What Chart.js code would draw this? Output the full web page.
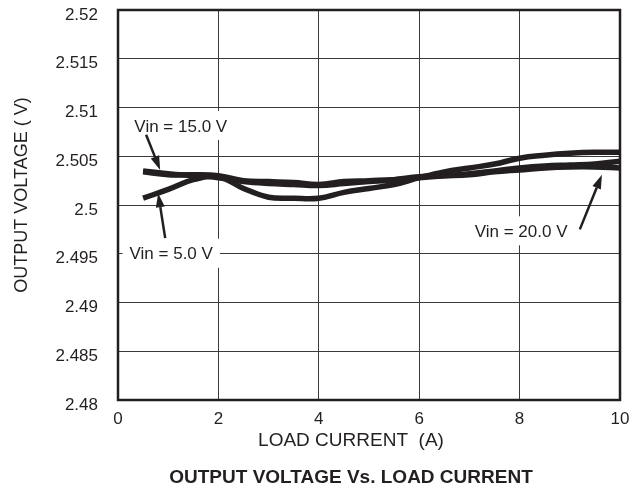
<!DOCTYPE html>
<html>
<head>
<meta charset="utf-8">
<script src="https://cdn.jsdelivr.net/npm/chart.js@4/dist/chart.umd.min.js"></script>
<style>
  html, body { margin: 0; padding: 0; background: #fff; }
  canvas { display: block; }
</style>
</head>
<body>
<canvas id="chart" width="637" height="498"></canvas>
<script>
// данные
const loadCurrent = [0.5, 1, 1.5, 2, 2.5, 3, 3.5, 4, 4.5, 5, 5.5, 6, 6.5, 7, 7.5, 8, 8.5, 9, 9.5, 10];
const vin5 = [2.5007, 2.5016, 2.5026, 2.5029, 2.5017, 2.5008, 2.5007, 2.5007, 2.5013, 2.5017,
              2.5021, 2.5028, 2.5034, 2.5038, 2.5042, 2.5048, 2.5051, 2.5053, 2.5054, 2.5054];
const vin15 = [2.5034, 2.5031, 2.5031, 2.5030, 2.5025, 2.5024, 2.5023, 2.5021, 2.5024, 2.5025,
               2.5026, 2.5028, 2.5030, 2.5032, 2.5035, 2.5038, 2.5040, 2.5041, 2.5042, 2.5045];
const vin20 = [2.5035, 2.5032, 2.5030, 2.5028, 2.5024, 2.5022, 2.5021, 2.5020, 2.5022, 2.5024,
               2.5026, 2.5029, 2.5030, 2.5031, 2.5034, 2.5036, 2.5038, 2.5039, 2.5039, 2.5038];
const xTicks = [0, 2, 4, 6, 8, 10];
const yTicks = [2.48, 2.485, 2.49, 2.495, 2.5, 2.505, 2.51, 2.515, 2.52];

const xTitle = 'LOAD CURRENT  (A)';
const yTitle = 'OUTPUT VOLTAGE ( V)';
const chartTitle = 'OUTPUT VOLTAGE Vs. LOAD CURRENT';

// подписи со стрелками (в координатах данных)
const notes = [
  { text: 'Vin = 15.0 V', x: 1.25, y: 2.5080, from: [0.56, 2.5072], to: [0.84, 2.5036] },
  { text: 'Vin = 5.0 V', x: 1.06, y: 2.4949, from: [0.94, 2.4966], to: [0.80, 2.5012] },
  { text: 'Vin = 20.0 V', x: 8.03, y: 2.4972, from: [9.20, 2.4975], to: [9.64, 2.5031] }
];

const INK = '#231f20';
const FONT = '"Liberation Sans", Arial, Helvetica, sans-serif';

function arrow(ctx, x1, y1, x2, y2) {
  const ang = Math.atan2(y2 - y1, x2 - x1);
  const head = 14, half = 4.5;
  const bx = x2 - head * Math.cos(ang), by = y2 - head * Math.sin(ang);
  ctx.beginPath();
  ctx.moveTo(x1, y1);
  ctx.lineTo(bx, by);
  ctx.stroke();
  ctx.beginPath();
  ctx.moveTo(x2, y2);
  ctx.lineTo(bx + half * Math.sin(ang), by - half * Math.cos(ang));
  ctx.lineTo(bx - half * Math.sin(ang), by + half * Math.cos(ang));
  ctx.closePath();
  ctx.fill();
}

const decor = {
  id: 'decor',
  beforeDatasetsDraw(chart) {
    const { ctx, scales: { x, y } } = chart;
    ctx.save();
    ctx.font = '17px ' + FONT;
    ctx.textAlign = 'center';
    ctx.textBaseline = 'middle';
    for (const n of notes) {
      const px = x.getPixelForValue(n.x), py = y.getPixelForValue(n.y);
      const w = ctx.measureText(n.text).width;
      ctx.fillStyle = '#fff';
      ctx.fillRect(px - w / 2 - 7, py - 16, w + 14, 29);
      ctx.fillStyle = INK;
      ctx.fillText(n.text, px, py);
    }
    ctx.restore();
  },
  afterDatasetsDraw(chart) {
    const { ctx, chartArea: a, scales: { x, y } } = chart;
    ctx.save();
    ctx.strokeStyle = INK;
    ctx.fillStyle = INK;
    ctx.lineWidth = 2.5;
    for (const n of notes) {
      arrow(ctx, x.getPixelForValue(n.from[0]), y.getPixelForValue(n.from[1]),
                 x.getPixelForValue(n.to[0]), y.getPixelForValue(n.to[1]));
    }
    // рамка поля графика
    ctx.lineWidth = 2.5;
    ctx.strokeRect(a.left, a.top, a.right - a.left, a.bottom - a.top);

    // подписи осей и заголовок
    const cx = (a.left + a.right) / 2 - 18;
    ctx.textAlign = 'center';
    ctx.textBaseline = 'middle';
    ctx.font = '19px ' + FONT;
    ctx.fillText(xTitle, cx, 441);
    ctx.font = 'bold 19px ' + FONT;
    ctx.fillText(chartTitle, cx, 478);
    ctx.translate(22, (a.top + a.bottom) / 2 - 10);
    ctx.rotate(-Math.PI / 2);
    ctx.font = '18px ' + FONT;
    ctx.fillText(yTitle, 0, 0);
    ctx.restore();
  }
};

const lineStyle = {
  borderColor: INK,
  borderWidth: 5.5,
  pointRadius: 0,
  tension: 0.4,
  fill: false
};

new Chart(document.getElementById('chart'), {
  type: 'line',
  data: {
    datasets: [
      { label: 'Vin = 5.0 V', data: loadCurrent.map((c, i) => ({ x: c, y: vin5[i] })), ...lineStyle },
      { label: 'Vin = 15.0 V', data: loadCurrent.map((c, i) => ({ x: c, y: vin15[i] })), ...lineStyle },
      { label: 'Vin = 20.0 V', data: loadCurrent.map((c, i) => ({ x: c, y: vin20[i] })), ...lineStyle }
    ]
  },
  plugins: [decor],
  options: {
    responsive: false,
    animation: false,
    devicePixelRatio: 1,
    layout: { padding: { top: 10, right: 17, left: 0, bottom: 0 } },
    plugins: {
      legend: { display: false },
      tooltip: { enabled: false },
      title: { display: false }
    },
    scales: {
      x: {
        type: 'linear',
        min: 0,
        max: 10,
        afterBuildTicks: s => { s.ticks = xTicks.map(v => ({ value: v })); },
        afterFit: s => { s.height = 98; s.paddingLeft = 0; s.paddingRight = 0; },
        grid: { color: '#3a3a3a', lineWidth: 1, drawTicks: false },
        border: { display: false },
        ticks: {
          color: INK,
          padding: 9,
          maxRotation: 0,
          font: { family: FONT, size: 17 }
        }
      },
      y: {
        min: 2.48,
        max: 2.52,
        afterBuildTicks: s => { s.ticks = yTicks.map(v => ({ value: v })); },
        afterFit: s => { s.width = 118; s.paddingTop = 0; s.paddingBottom = 0; },
        grid: { color: '#3a3a3a', lineWidth: 1, drawTicks: false },
        border: { display: false },
        ticks: {
          color: INK,
          padding: 20,
          labelOffset: 5,
          font: { family: FONT, size: 17 },
          callback: v => String(+Number(v).toFixed(3))
        }
      }
    }
  }
});
</script>
</body>
</html>
